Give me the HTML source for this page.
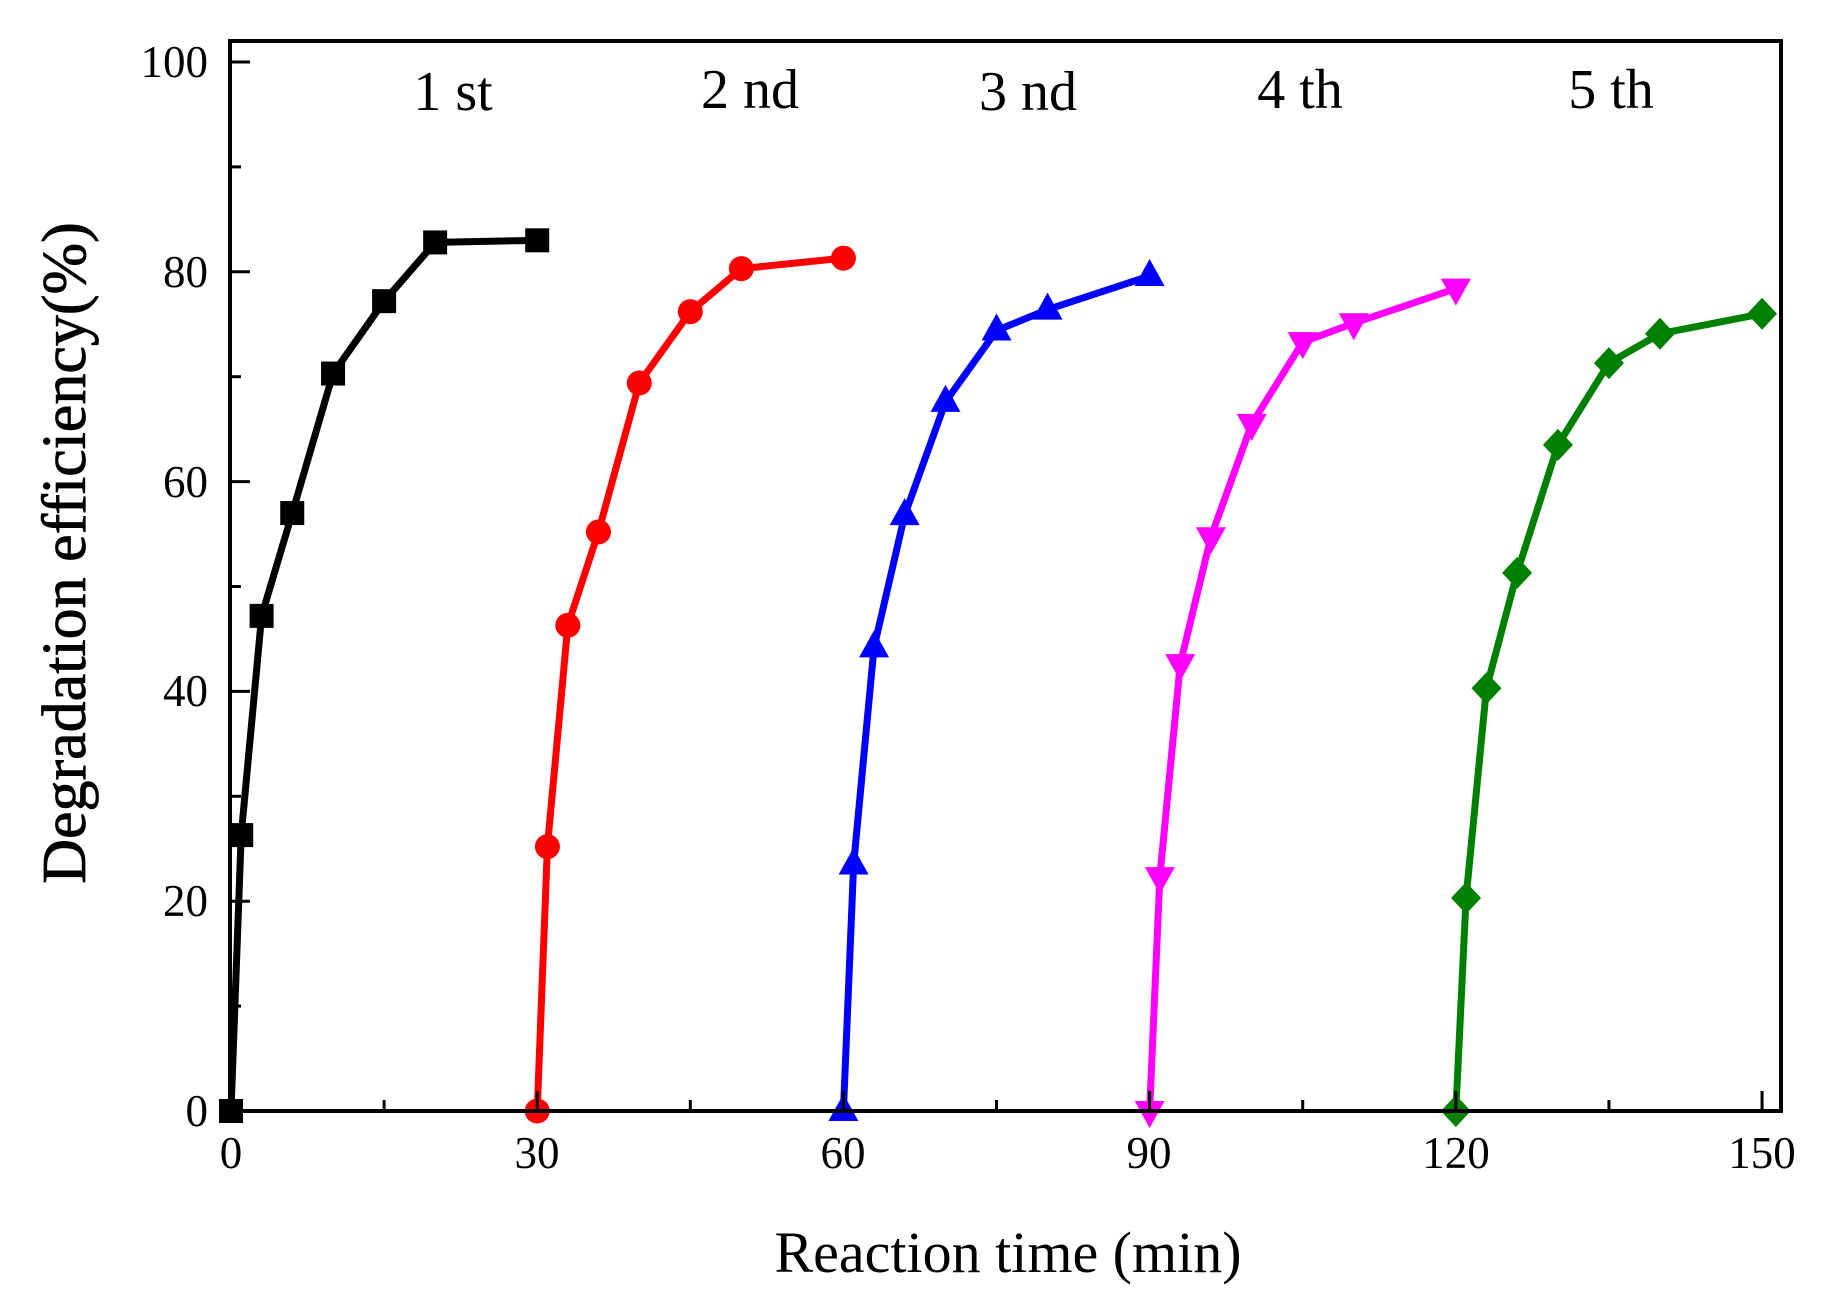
<!DOCTYPE html>
<html><head><meta charset="utf-8"><style>
html,body{margin:0;padding:0;background:#fff;}
svg{display:block;}
text{font-family:"Liberation Serif",serif;fill:#000;}
</style></head><body>
<svg id="s" width="1822" height="1310" viewBox="0 0 1822 1310" xmlns="http://www.w3.org/2000/svg">
<rect x="0" y="0" width="1822" height="1310" fill="#fff"/>
<g id="plot"></g>
<rect x="230" y="41" width="1551" height="1070" fill="none" stroke="#000" stroke-width="4"/>
<g id="ticks" stroke="#000" stroke-width="3"></g>
<g font-size="45" text-anchor="end">
<text x="208" y="1126">0</text>
<text x="208" y="916">20</text>
<text x="208" y="706">40</text>
<text x="208" y="497">60</text>
<text x="208" y="287">80</text>
<text x="208" y="77">100</text>
</g>
<g font-size="45" text-anchor="middle">
<text x="231" y="1168">0</text>
<text x="537" y="1168">30</text>
<text x="843" y="1168">60</text>
<text x="1149" y="1168">90</text>
<text x="1456" y="1168">120</text>
<text x="1762" y="1168">150</text>
</g>
<text x="1008" y="1272" font-size="58" text-anchor="middle">Reaction time (min)</text>
<text transform="translate(85,553) rotate(-90)" font-size="62" text-anchor="middle" stroke="#000" stroke-width="0.8">Degradation efficiency(%)</text>
<g font-size="56" text-anchor="middle">
<text x="453" y="110">1 st</text>
<text x="750" y="108">2 nd</text>
<text x="1028" y="110">3 nd</text>
<text x="1300" y="108">4 th</text>
<text x="1611" y="108">5 th</text>
</g>
</svg>
<script>
var X=function(t){return 231+10.207*t},Y=function(v){return 1111-10.49*v};
var NS="http://www.w3.org/2000/svg";
var plot=document.getElementById('plot'),ticks=document.getElementById('ticks');
function el(p,n,a){var e=document.createElementNS(NS,n);for(var k in a)e.setAttribute(k,a[k]);p.appendChild(e);return e;}
for(var v=0;v<=100;v+=10){var L=(v%20==0)?20:11;el(ticks,'line',{x1:230,y1:Y(v),x2:230+L,y2:Y(v)});}
for(var t=0;t<=150;t+=15){var L=(t%30==0)?20:11;el(ticks,'line',{x1:X(t),y1:1111,x2:X(t),y2:1111-L});}
var S=[
 {c:'#000',m:'sq',d:[[0,0],[1,26.3],[3,47.2],[6,57],[10,70.3],[15,77.2],[20,82.8],[30,83]]},
 {c:'#ff0000',m:'ci',d:[[30,0],[31,25.2],[33,46.3],[36,55.2],[40,69.4],[45,76.2],[50,80.3],[60,81.3]]},
 {c:'#0000ff',m:'tu',d:[[60,0],[61,23.5],[63,44.2],[66,56.8],[70,67.6],[75,74.4],[80,76.4],[90,79.6]]},
 {c:'#ff00ff',m:'td',d:[[90,0],[91,22.3],[93,42.6],[96,54.7],[100,65.5],[105,73.3],[110,75.1],[120,78.4]]},
 {c:'#008000',m:'di',d:[[120,0],[121,20.3],[123,40.3],[126,51.3],[130,63.5],[135,71.3],[140,74.1],[150,76]]}
];
S.forEach(function(s){
 var pts=s.d.map(function(p){return X(p[0])+','+Y(p[1])}).join(' ');
 el(plot,'polyline',{points:pts,fill:'none',stroke:s.c,'stroke-width':7,'stroke-linejoin':'round'});
 s.d.forEach(function(p){var x=X(p[0]),y=Y(p[1]);
  if(s.m=='sq')el(plot,'rect',{x:x-12,y:y-12,width:24,height:24,fill:s.c});
  else if(s.m=='ci')el(plot,'circle',{cx:x,cy:y,r:12.5,fill:s.c});
  else if(s.m=='tu')el(plot,'polygon',{points:(x-15)+','+(y+10)+' '+(x+15)+','+(y+10)+' '+x+','+(y-17),fill:s.c});
  else if(s.m=='td')el(plot,'polygon',{points:(x-15)+','+(y-10)+' '+(x+15)+','+(y-10)+' '+x+','+(y+17),fill:s.c});
  else el(plot,'polygon',{points:x+','+(y-16)+' '+(x+15)+','+y+' '+x+','+(y+16)+' '+(x-15)+','+y,fill:s.c});
 });
});
</script>
</body></html>
